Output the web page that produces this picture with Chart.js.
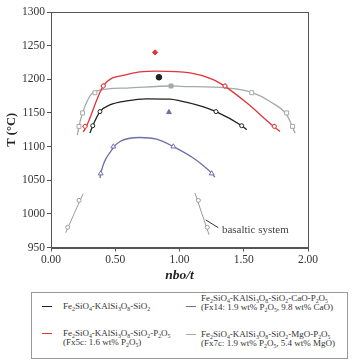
<!DOCTYPE html>
<html><head><meta charset="utf-8">
<script src="https://cdn.jsdelivr.net/npm/chart.js@4/dist/chart.umd.min.js"></script>
<style>
html,body{margin:0;padding:0;background:#fff;}
#wrap{position:relative;width:356px;height:363px;overflow:hidden;}
#c{position:absolute;left:0;top:0;}
#legend{position:absolute;left:31px;top:292px;width:317px;height:67px;border:1px solid #999;box-sizing:border-box;font-family:"Liberation Serif",serif;font-size:9px;color:#333;}
.item{position:absolute;line-height:9px;white-space:nowrap;}
.sw{position:absolute;width:10px;height:0;border-top:1.3px solid;}
sub{font-size:65%;vertical-align:baseline;position:relative;top:0.3em;line-height:0;}
</style></head>
<body><div id="wrap"><canvas id="c" width="356" height="290"></canvas>
<div id="legend">
 <div class="sw" style="left:10px;top:13px;border-color:#222"></div>
 <div class="item" style="left:31px;top:9px">Fe<sub>2</sub>SiO<sub>4</sub>-KAlSi<sub>3</sub>O<sub>8</sub>-SiO<sub>2</sub></div>
 <div class="sw" style="left:10px;top:40px;border-color:#e0353a"></div>
 <div class="item" style="left:31px;top:36px">Fe<sub>2</sub>SiO<sub>4</sub>-KAlSi<sub>3</sub>O<sub>8</sub>-SiO<sub>2</sub>-P<sub>2</sub>O<sub>5</sub><br>(Fx5c: 1.6 wt% P<sub>2</sub>O<sub>5</sub>)</div>
 <div class="sw" style="left:154px;top:13px;border-color:#6b70a8"></div>
 <div class="item" style="left:169px;top:1px">Fe<sub>2</sub>SiO<sub>4</sub>-KAlSi<sub>3</sub>O<sub>8</sub>-SiO<sub>2</sub>-CaO-P<sub>2</sub>O<sub>5</sub><br>(Fx14: 1.9 wt% P<sub>2</sub>O<sub>5</sub>, 9.8 wt% CaO)</div>
 <div class="sw" style="left:154px;top:41px;border-color:#a3aaa8"></div>
 <div class="item" style="left:169px;top:37px">Fe<sub>2</sub>SiO<sub>4</sub>-KAlSi<sub>3</sub>O<sub>8</sub>-SiO<sub>2</sub>-MgO-P<sub>2</sub>O<sub>5</sub><br>(Fx7c: 1.9 wt% P<sub>2</sub>O<sub>5</sub>, 5.4 wt% MgO)</div>
</div></div>
<script>
// ---- data ----
const xTickLabels = ['0.00','0.50','1.00','1.50','2.00'];
const yTicks = [950,1000,1050,1100,1150,1200,1250,1300];

// fitted curves
const blackCurveX = [0.303,0.325,0.381,0.459,0.589,0.745,0.926,1.004,1.134,1.284,1.484,1.523];
const blackCurveY = [1120,1131,1152,1162,1168,1171,1170.5,1168,1162,1152,1131,1125];
const redCurveX = [0.249,0.265,0.407,0.589,0.822,1.082,1.263,1.354,1.523,1.738,1.782];
const redCurveY = [1122,1126,1190,1207,1212,1209.5,1199.5,1189.5,1165,1129,1122.5];
const grayCurveX = [0.205,0.23,0.288,0.342,0.589,0.934,1.004,1.367,1.562,1.704,1.834,1.9];
const grayCurveY = [1117,1140,1170,1182,1187,1190,1189.5,1187,1180.5,1167,1147,1120];
const blueCurveX = [0.381,0.387,0.485,0.537,0.693,0.822,0.952,1.107,1.25,1.276];
const blueCurveY = [1053,1060,1098,1107.5,1113.5,1111,1100,1083,1060.5,1054.5];
const basLeftX = [0.114,0.25];
const basLeftY = [972,1030];
const basRightX = [1.12,1.23];
const basRightY = [1031,969];

// measured points
const blackPtsX = [0.325,0.381,1.284,1.484];
const blackPtsY = [1131,1152,1152,1131];
const redPtsX = [0.265,0.407,1.354,1.738];
const redPtsY = [1130,1190,1190,1130];
const grayPtsX = [0.218,0.246,0.342,1.562,1.834,1.88];
const grayPtsY = [1130,1150,1180,1180,1150,1130];
const bluePtsX = [0.387,0.485,0.952,1.25];
const bluePtsY = [1060,1100,1100,1060];
const basPtsX = [0.13,0.218,1.147,1.216];
const basPtsY = [980,1020,1020,980];

// filled (liquidus maximum) points
const blackMaxX = [0.84], blackMaxY = [1203];
const redMaxX = [0.81], redMaxY = [1240];
const grayMaxX = [0.934], grayMaxY = [1190];
const blueMaxX = [0.918], blueMaxY = [1151];

// annotation
const annotText = 'basaltic system';
const annotLineX = [1.204,1.302], annotLineY = [991,979.5];
const annotTextX = 1.33, annotTextY = 976;

const BLACK='#222222', RED='#e0353a', GRAY='#a3aaa8', BLUE='#6b70a8', BGRAY='#9a9a9a';
const pts=(xs,ys)=>xs.map((x,i)=>({x,y:ys[i]}));
const curve=(xs,ys,c)=>({data:pts(xs,ys),showLine:true,borderColor:c,borderWidth:1.3,pointRadius:0,cubicInterpolationMode:'monotone',order:5});
const line=(xs,ys,c)=>({data:pts(xs,ys),showLine:true,borderColor:c,borderWidth:1,pointRadius:0,tension:0,order:5});
const marks=(xs,ys,c,style,r,fill)=>({data:pts(xs,ys),showLine:false,pointStyle:style,pointRadius:r,pointBorderColor:c,pointBackgroundColor:fill,pointBorderWidth:1,order:1});

const frame={id:'frame',afterDraw(ch){
  const a=ch.chartArea,ctx=ch.ctx;
  ctx.save();ctx.strokeStyle='#555';ctx.lineWidth=1;
  ctx.strokeRect(Math.round(a.left)+0.5,Math.round(a.top)+0.5,Math.round(a.right-a.left),Math.round(a.bottom-a.top));
  const xs=ch.scales.x, ys=ch.scales.y;
  ctx.strokeStyle='#333';ctx.beginPath();
  ctx.moveTo(xs.getPixelForValue(annotLineX[0]),ys.getPixelForValue(annotLineY[0]));
  ctx.lineTo(xs.getPixelForValue(annotLineX[1]),ys.getPixelForValue(annotLineY[1]));
  ctx.stroke();
  ctx.fillStyle='#444';ctx.font='11px "Liberation Serif"';ctx.textBaseline='middle';
  ctx.fillText(annotText,xs.getPixelForValue(annotTextX),ys.getPixelForValue(annotTextY));
  ctx.restore();
}};

new Chart(document.getElementById('c'),{
  type:'scatter',
  data:{datasets:[
    marks(blackMaxX,blackMaxY,BLACK,'circle',2.8,BLACK),
    marks(redMaxX,redMaxY,RED,'rectRot',2.6,RED),
    marks(grayMaxX,grayMaxY,GRAY,'rect',2.8,GRAY),
    marks(blueMaxX,blueMaxY,BLUE,'triangle',2.8,BLUE),
    marks(blackPtsX,blackPtsY,BLACK,'circle',2,'#fff'),
    marks(redPtsX,redPtsY,RED,'circle',2,'#fff'),
    marks(redPtsX,redPtsY,RED,'cross',2.6,RED),
    marks(grayPtsX,grayPtsY,GRAY,'rect',2.8,'#fff'),
    marks(bluePtsX,bluePtsY,BLUE,'triangle',2.8,'#fff'),
    marks(basPtsX,basPtsY,BGRAY,'circle',2,'#fff'),
    curve(blackCurveX,blackCurveY,BLACK),
    curve(redCurveX,redCurveY,RED),
    curve(grayCurveX,grayCurveY,GRAY),
    curve(blueCurveX,blueCurveY,BLUE),
    line(basLeftX,basLeftY,BGRAY),
    line(basRightX,basRightY,BGRAY)
  ]},
  options:{
    responsive:false,animation:false,devicePixelRatio:1,
    layout:{padding:{top:12,right:48,left:0,bottom:0}},
    plugins:{legend:{display:false},tooltip:{enabled:false}},
    scales:{
      x:{type:'linear',min:0,max:2,
        afterBuildTicks:s=>{s.ticks=xTickLabels.map(v=>({value:parseFloat(v)}));},
        afterFit:s=>{s.height=42.5;},
        ticks:{callback:(v)=>{const i=xTickLabels.findIndex(t=>parseFloat(t)===v);return i>=0?xTickLabels[i]:'';},color:'#333',font:{family:'Liberation Serif',size:11.5},padding:2,maxRotation:0},
        grid:{drawOnChartArea:false,tickLength:4,color:'#555'},
        border:{color:'#555'},
        title:{display:true,text:'nbo/t',color:'#222',font:{family:'Liberation Serif',size:13.5,weight:'bold',style:'italic'},padding:{top:2,bottom:6}}
      },
      y:{type:'linear',min:950,max:1300,
        afterBuildTicks:s=>{s.ticks=yTicks.map(v=>({value:v}));},
        afterFit:s=>{s.width=51;},
        ticks:{callback:(v)=>String(v),color:'#333',font:{family:'Liberation Serif',size:11.5},padding:2},
        grid:{drawOnChartArea:false,tickLength:4,color:'#555'},
        border:{color:'#555'},
        title:{display:true,text:'T (°C)',color:'#222',font:{family:'Liberation Serif',size:12.5,weight:'bold'},padding:{top:4,bottom:4}}
      }
    }
  },
  plugins:[frame]
});
</script></body></html>
